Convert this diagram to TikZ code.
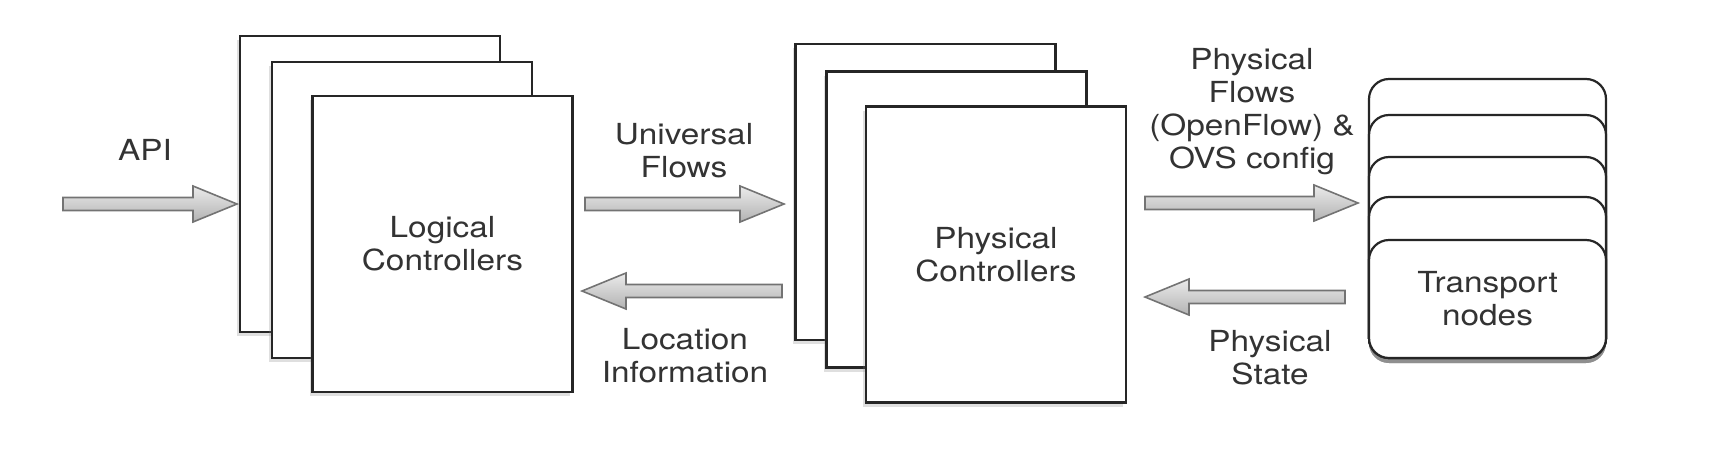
\documentclass[tikz,border=0pt]{standalone}
\usepackage{fontspec}
\setmainfont{TeX Gyre Heros}[FakeStretch=1.15]
\usetikzlibrary{shadows,calc}
\tikzset{
        sheet/.style = {draw=black!85, fill=white, line width=1.2pt, minimum width=130pt, minimum height=148pt, inner sep=0pt,
                        drop shadow={shadow xshift=-1.5pt, shadow yshift=-2pt, opacity=0.25}},
        card/.style = {draw=black!85, fill=white, line width=1.1pt, rounded corners=10pt, minimum width=118.5pt, inner sep=0pt,
                       drop shadow={shadow xshift=0pt, shadow yshift=-2.5pt, opacity=0.35}},
        lbl/.style = {align=center, text=black!80, inner sep=0pt, font=\fontsize{14.5}{16.5}\selectfont},
        fat/.style = {draw=black!55, line width=0.8pt, top color=black!8, bottom color=black!30,
                      to path={let \p1=(\tikztostart), \p2=(\tikztotarget), \n1={(\x2>\x1)*2-1} in
                      (\x1,\y1+3.25pt) -- (\x2-\n1*22pt,\y1+3.25pt) -- (\x2-\n1*22pt,\y1+9pt) -- (\x2,\y1)
                      -- (\x2-\n1*22pt,\y1-9pt) -- (\x2-\n1*22pt,\y1-3.25pt) -- (\x1,\y1-3.25pt) -- cycle}},
    }

\begin{document}
\begin{tikzpicture}[x=0.5pt, y=-0.5pt]
    \useasboundingbox (0,0) rectangle (1722,456);

    % logical controllers
    \node [sheet] (lc1) at (370,184) {};
    \node [sheet] (lc2) at (402,210) {};
    \node [sheet, lbl, draw=black!85] (lc3) at (442.5,244) {Logical\\Controllers};

    % physical controllers
    \node [sheet] (pc1) at (925.5,192) {};
    \node [sheet] (pc2) at (956.5,219.5) {};
    \node [sheet, lbl, draw=black!85] (pc3) at (996,254.5) {Physical\\Controllers};

    % transport nodes
    \foreach \i/\t in {1/79,2/115,3/157,4/197}
        \node [card, minimum height={(358-\t)*0.5pt}] (tn\i) at (1487.5,{(\t+358)/2}) {};
    \node [card, lbl, draw=black!85, minimum height=59pt] (tn5) at (1487.5,299) {Transport\\nodes};

    % arrow ends
    \coordinate (apis) at (63,204);
    \coordinate (apie) at (237,204);
    \coordinate (ufs) at (585,204);
    \coordinate (ufe) at (784,204);
    \coordinate (lis) at (782,291);
    \coordinate (lie) at (582,291);
    \coordinate (pfs) at (1145,203);
    \coordinate (pfe) at (1358,203);
    \coordinate (pss) at (1345,297);
    \coordinate (pse) at (1145,297);

    \draw [fat] (apis) to (apie);
    \draw [fat] (ufs) to (ufe);
    \draw [fat] (lis) to (lie);
    \draw [fat] (pfs) to (pfe);
    \draw [fat] (pss) to (pse);

    % labels
    \node [lbl] (api) at (145,150) {API};
    \node [lbl] (uf) at (684,151) {Universal\\Flows};
    \node [lbl] (li) at (685,356) {Location\\Information};
    \node [lbl] (pf) at (1252,112) {Physical\\Flows\\(OpenFlow) \&\\OVS config};
    \node [lbl] (ps) at (1270,358) {Physical\\State};

\end{tikzpicture}
\end{document}
